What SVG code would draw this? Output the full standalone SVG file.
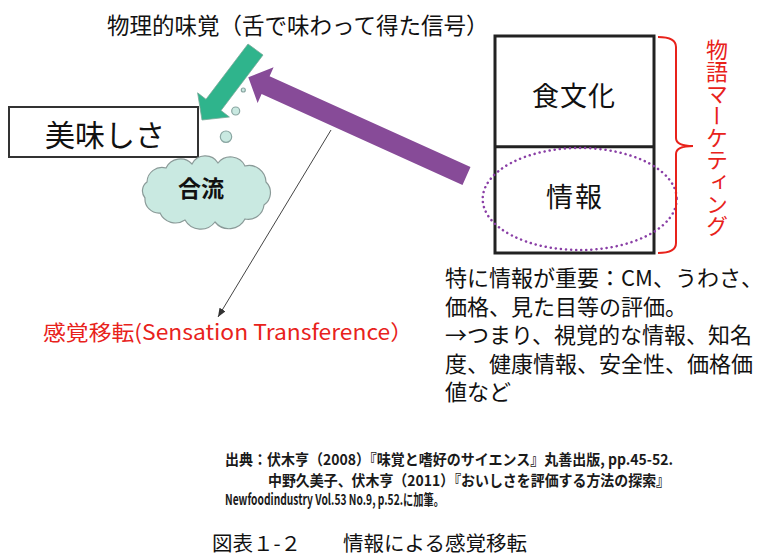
<svg xmlns="http://www.w3.org/2000/svg" width="777" height="556" viewBox="0 0 777 556">
<defs>
<style>
text{font-family:"Noto Sans CJK JP","Noto Sans",sans-serif;fill:#111}
.red{fill:#e8221b}
.foot{font-size:15px;font-weight:bold;fill:#1a1a1a}
.box{fill:#fff;stroke:#222;stroke-width:3}
</style>
<marker id="ah" viewBox="0 0 10 8" refX="10" refY="4" markerWidth="9" markerHeight="7" markerUnits="userSpaceOnUse" orient="auto">
<path d="M0,0 L10,4 L0,8 z" fill="#333"/>
</marker>
</defs>
<rect width="777" height="556" fill="#fff"/>

<text x="107" y="34" font-size="22.5">物理的味覚（舌で味わって得た信号）</text>

<g id="oishisa">
<rect x="9" y="107" width="189" height="50" fill="#fff" stroke="#333" stroke-width="2"/>
<text x="45" y="146" font-size="30">美味しさ</text>
</g>

<g id="bubbles" fill="#c9e9e1" stroke="#8aa6a2" stroke-width="1.2">
<circle cx="243.3" cy="90" r="2"/>
<circle cx="235.7" cy="111" r="4"/>
<circle cx="226" cy="136.7" r="5.7"/>
</g>

<g id="goryu">
<path d="M147,182 A15,15 0 0 1 166,168 A16,16 0 0 1 192,164 A15,15 0 0 1 218,163 A16,16 0 0 1 245,166 A17,17 0 0 1 266,182 A15,15 0 0 1 264,205 A16,16 0 0 1 245,219 A18,18 0 0 1 215,222 A18,18 0 0 1 185,220 A17,17 0 0 1 160,213 A14,14 0 0 1 145,198 A11,11 0 0 1 147,182 Z" fill="#c9e9e1" stroke="#8a9a98" stroke-width="1.2"/>
<text x="178" y="197" font-size="23" font-weight="bold">合流</text>
</g>

<g id="stack">
<rect class="box" x="495" y="36" width="159" height="217"/>
<line x1="495" y1="146.7" x2="654" y2="146.7" stroke="#222" stroke-width="3"/>
<text x="532" y="106" font-size="27" letter-spacing="1">食文化</text>
<text x="546" y="207" font-size="27" letter-spacing="2">情報</text>
</g>

<g id="info-ellipse">
<ellipse cx="579.7" cy="199" rx="97" ry="51" fill="none" stroke="#8a3fa6" stroke-width="2.5" stroke-dasharray="0.1 5" stroke-linecap="round"/>
</g>

<g id="monogatari">
<path d="M658,37 Q676,37 676,47 L676,138 Q676,146 693,146 Q676,146 676,154 L676,243 Q676,253 658,253" fill="none" stroke="#e8221b" stroke-width="2"/>
<text class="red" x="717" y="39" font-size="22" style="writing-mode:vertical-rl">物語マーケティング</text>
</g>

<g id="connectors">
<polygon id="taste-arrow" points="248,44 263,55 221,110.5 229.4,117 202,120 197.6,92.8 206,99.3" fill="#2fb48c" stroke="#7aa898" stroke-width="0.8"/>
<polygon id="info-arrow" points="248.3,77.3 273.6,67.3 269.6,76.2 470.5,167.1 462.5,184.9 261.6,94 257.6,102.9" fill="#874b98"/>
<line x1="331" y1="130" x2="218" y2="317" stroke="#444" stroke-width="1" marker-end="url(#ah)"/>
</g>

<text class="red" x="43" y="339.5" font-size="21" textLength="370" lengthAdjust="spacingAndGlyphs">感覚移転(Sensation Transference）</text>

<g id="notes">
<text font-size="22"><tspan x="445" y="286">特に情報が重要：CM、うわさ、</tspan><tspan x="445" y="314.5">価格、見た目等の評価。</tspan><tspan x="445" y="343">→つまり、視覚的な情報、知名</tspan><tspan x="445" y="371.5">度、健康情報、安全性、価格価</tspan><tspan x="445" y="400">値など</tspan></text>
</g>

<g id="source">
<text class="foot" x="225" y="465" textLength="448" lengthAdjust="spacingAndGlyphs">出典：伏木亨（2008）『味覚と嗜好のサイエンス』丸善出版,  pp.45-52.</text>
<text class="foot" x="268" y="486" textLength="402" lengthAdjust="spacingAndGlyphs">中野久美子、伏木亨（2011）『おいしさを評価する方法の探索』</text>
<text class="foot" x="225" y="505" textLength="219" lengthAdjust="spacingAndGlyphs">Newfoodindustry Vol.53 No.9, p.52.に加筆。</text>
</g>

<text font-size="20.5" y="551" fill="#222"><tspan x="212">図表１-２</tspan><tspan x="343">情報による感覚移転</tspan></text>
</svg>
